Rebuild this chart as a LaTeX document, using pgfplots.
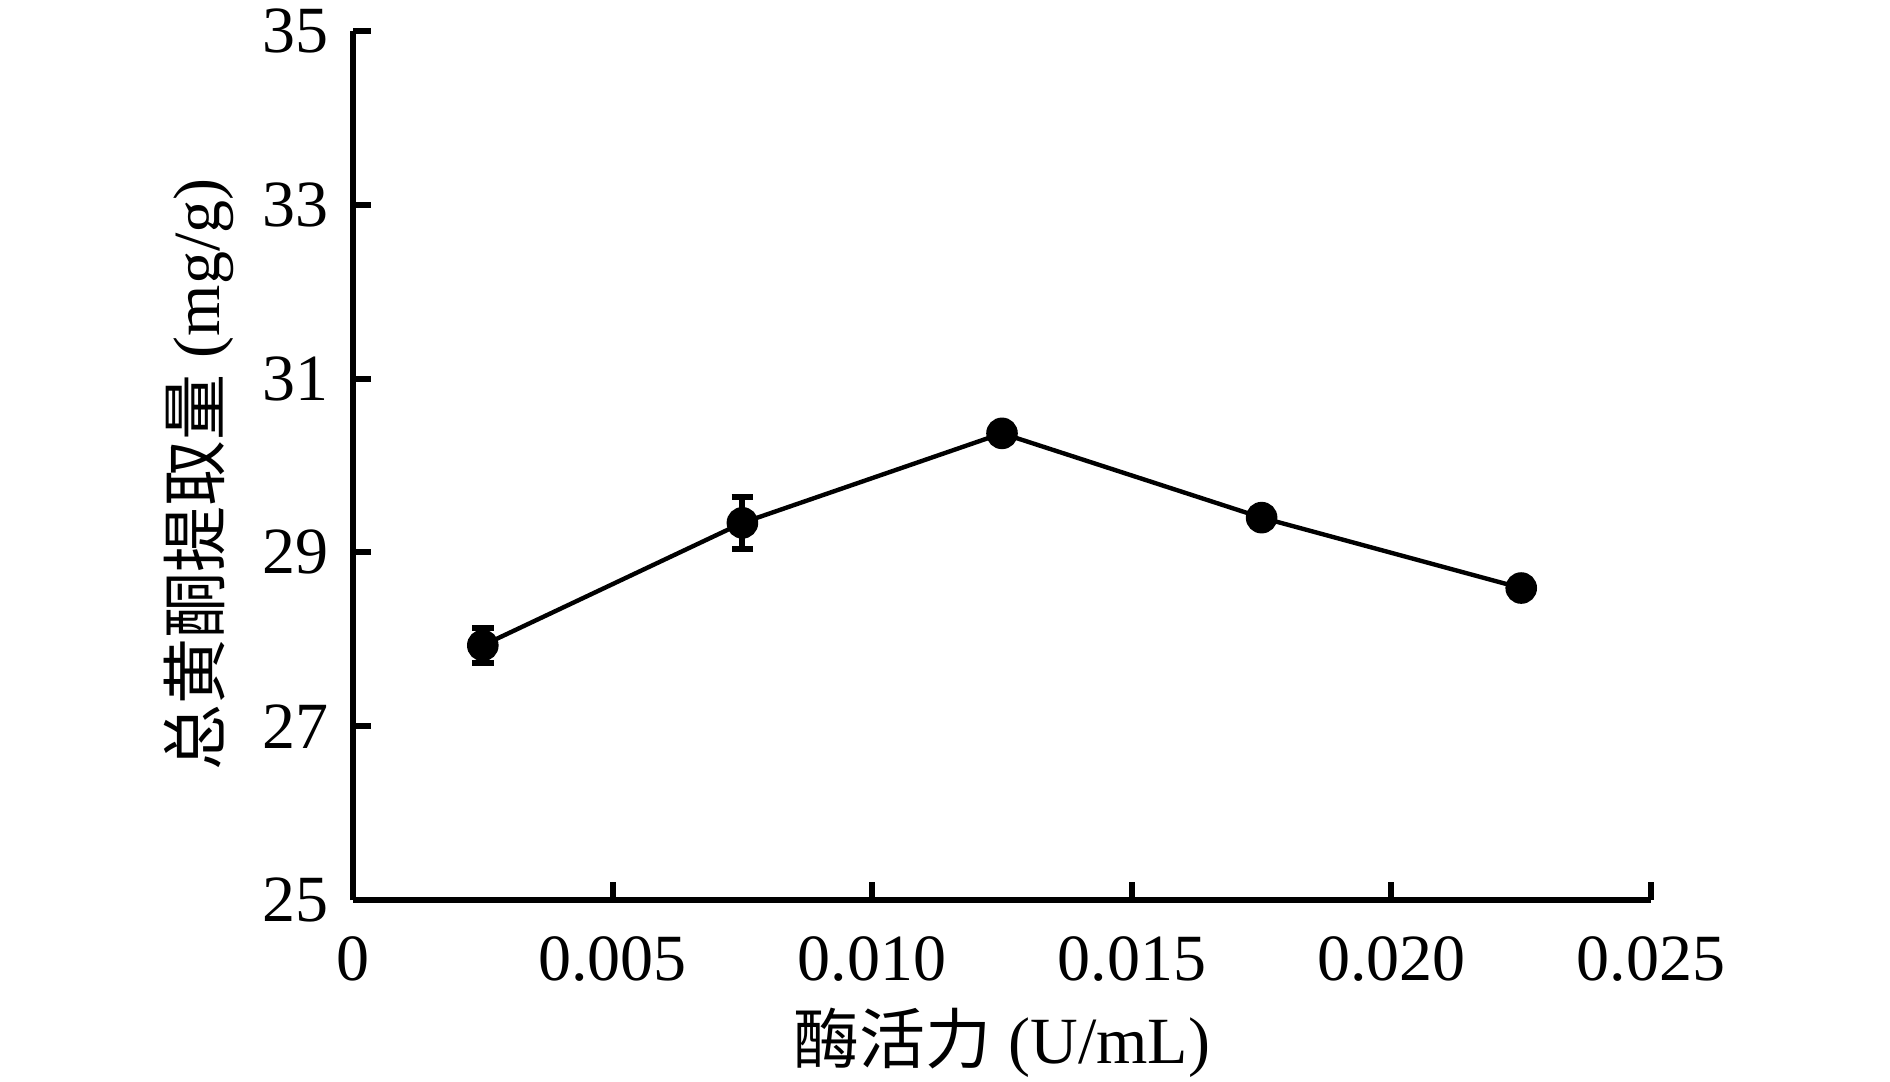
\documentclass[border=0pt]{standalone}
\usepackage{pgfplots}
\pgfplotsset{compat=1.18}
\usepackage{fontspec}
\setmainfont{Liberation Serif}
\newfontfamily\cjk{Noto Sans CJK SC}
\begin{document}
\begin{tikzpicture}
\path[use as bounding box] (-88.25pt,-45.25pt) rectangle (384.25pt,225pt);
\begin{axis}[
  at={(0,0)}, anchor=south west,
  scale only axis,
  width=324.5pt, height=217.25pt,
  xmin=0, xmax=0.025, ymin=25, ymax=35,
  axis x line=bottom, axis y line=left,
  axis line style={-, line width=1.5pt},
  xtick={0,0.005,0.010,0.015,0.020,0.025},
  xticklabels={0,0.005,0.010,0.015,0.020,0.025},
  ytick={25,27,29,31,33,35},
  tick align=inside,
  major tick length=4.5pt,
  tick style={line width=1.5pt, black},
  /pgf/number format/assume math mode=true,
  scaled x ticks=false,
  tick label style={font=\fontsize{16.5}{19}\selectfont},
  xticklabel style={yshift=-5.7pt},
  yticklabel style={xshift=-2.5pt},
  label style={font=\fontsize{16.5}{19}\selectfont},
  xlabel={{\cjk 酶活力} (U/mL)},
  ylabel={{\cjk 总黄酮提取量} (mg/g)},
  xlabel style={at={(rel axis cs:0.5,0)}, anchor=center, yshift=-35.75pt},
  ylabel style={at={(rel axis cs:0,0.5)}, anchor=center, yshift=38.5pt, xshift=-2.25pt},
  clip=false,
]
\addplot[black, line width=1.1pt, mark=*, mark size=3.4pt,
  error bars/.cd, y dir=both, y explicit,
  error mark options={rotate=90, mark size=2.7pt, line width=1.5pt},
  error bar style={line width=1.5pt}]
  coordinates {
    (0.0025,27.93) +- (0,0.2)
    (0.0075,29.34) +- (0,0.3)
    (0.0125,30.37) +- (0,0)
    (0.0175,29.40) +- (0,0)
    (0.0225,28.59) +- (0,0)
  };
\end{axis}
\end{tikzpicture}
\end{document}
